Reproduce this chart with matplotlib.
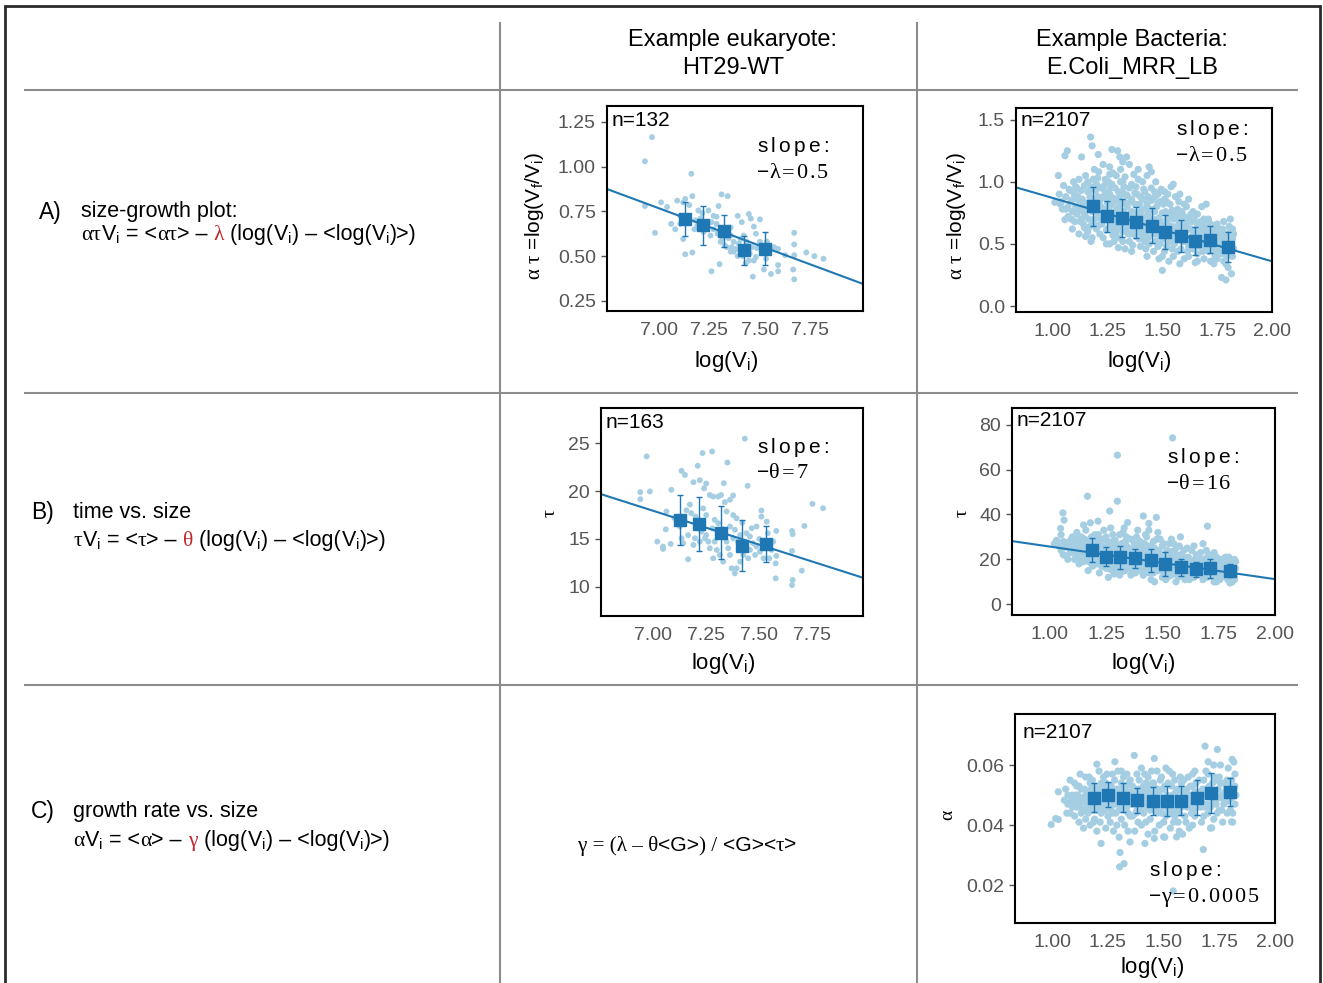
import matplotlib
matplotlib.use("Agg")
import matplotlib.pyplot as plt
from matplotlib.lines import Line2D
import numpy as np

plt.rcParams['font.family'] = ['Liberation Sans', 'DejaVu Sans']
plt.rcParams['mathtext.fontset'] = 'custom'
plt.rcParams['mathtext.rm'] = 'Liberation Sans'
plt.rcParams['mathtext.sf'] = 'Liberation Serif'
plt.rcParams['mathtext.it'] = 'Liberation Sans:italic'
plt.rcParams['mathtext.default'] = 'regular'

# ---------------- DATA ----------------
col_titles = [["Example eukaryote:", "HT29-WT"], ["Example Bacteria:", "E.Coli_MRR_LB"]]
row_labels = ["A)", "B)", "C)"]
row_titles = ["size-growth plot:", "time vs. size", "growth rate vs. size"]

euk_xticks = [7.00, 7.25, 7.50, 7.75]
bac_xticks = [1.00, 1.25, 1.50, 1.75, 2.00]

# A) eukaryote: log(Vi) vs alpha*tau
eA_pts = [(6.93,1.03),(6.965,1.165),(7.16,0.96),(6.93,0.78),(6.98,0.63),(7.01,0.80),(7.04,0.775),
          (7.06,0.68),(7.08,0.65),(7.09,0.81),(7.12,0.80),(7.13,0.82),(7.15,0.785),(7.165,0.835),
          (7.12,0.595),(7.13,0.51),(7.165,0.52),(7.14,0.725),(7.18,0.70),(7.195,0.755),(7.205,0.71),
          (7.22,0.635),(7.24,0.66),(7.245,0.755),(7.26,0.415),(7.27,0.725),(7.285,0.68),(7.295,0.78),
          (7.31,0.845),(7.34,0.835),(7.30,0.455),(7.29,0.625),(7.305,0.58),(7.325,0.56),(7.355,0.615),
          (7.37,0.58),(7.39,0.725),(7.41,0.69),(7.445,0.735),(7.455,0.71),(7.50,0.705),(7.47,0.665),
          (7.42,0.615),(7.435,0.58),(7.46,0.55),(7.48,0.495),(7.465,0.385),(7.43,0.46),(7.53,0.485),
          (7.52,0.425),(7.555,0.40),(7.57,0.55),(7.59,0.45),(7.59,0.415),(7.59,0.54),(7.625,0.505),
          (7.67,0.63),(7.67,0.565),(7.665,0.425),(7.67,0.37),(7.67,0.505),(7.73,0.52),(7.77,0.50),
          (7.815,0.485),(7.37,0.525),(7.39,0.50),(7.405,0.53),(7.355,0.525),(7.335,0.55),(7.36,0.55),
          (7.38,0.54),(7.395,0.57),(7.405,0.595),(7.33,0.65),(7.355,0.66),(7.27,0.65),(7.255,0.615),
          (7.26,0.69),(7.23,0.69),(7.19,0.67),(7.175,0.65),(7.105,0.725),(7.105,0.68),(7.48,0.625),
          (7.50,0.58),(7.535,0.58),(7.55,0.545),(7.485,0.545),(7.45,0.515),(7.415,0.50),(7.445,0.475),
          (7.47,0.475),(7.315,0.60),(7.345,0.60),(7.285,0.72),(7.215,0.74)]
eA_bin_x = [7.127, 7.216, 7.320, 7.421, 7.527]
eA_bin_y = [0.708, 0.671, 0.639, 0.532, 0.541]
eA_bin_err = [0.095, 0.11, 0.088, 0.083, 0.091]
eA_fit = (7.0, 0.767, -0.418)   # (x0, y at x0, slope)

# B) eukaryote: log(Vi) vs tau
eB_pts = [(6.97,23.64),(6.94,19.9),(6.94,19.16),(6.985,19.97),(7.02,14.72),(7.047,14.2),(7.047,13.95),
          (7.086,20.14),(7.063,17.87),(7.083,14.48),(7.134,22.13),(7.15,21.7),(7.165,12.87),(7.19,20.94),
          (7.21,22.66),(7.22,21.15),(7.233,23.99),(7.24,20.3),(7.25,20.8),(7.278,24.16),(7.35,23.0),
          (7.333,20.84),(7.432,25.5),(7.445,20.56),(7.267,19.6),(7.283,19.44),(7.307,19.44),(7.32,19.6),
          (7.338,18.85),(7.377,19.55),(7.362,19.1),(7.173,18.6),(7.157,18.0),(7.18,17.7),(7.2,17.34),
          (7.236,18.2),(7.25,17.5),(7.29,17.0),(7.307,16.64),(7.346,17.87),(7.377,17.5),(7.393,17.16),
          (7.362,16.3),(7.385,15.95),(7.41,15.4),(7.44,15.6),(7.464,16.12),(7.487,16.3),(7.51,17.97),
          (7.51,17.34),(7.535,16.82),(7.58,15.84),(7.566,14.72),(7.558,13.85),(7.58,13.22),(7.547,12.97),
          (7.577,12.44),(7.577,10.87),(7.654,15.84),(7.657,15.5),(7.654,13.74),(7.657,10.7),(7.654,10.17),
          (7.70,11.68),(7.712,16.36),(7.75,18.67),(7.80,18.22),(7.126,16.3),(7.134,15.07),(7.142,14.55),
          (7.165,15.4),(7.19,14.37),(7.197,15.07),(7.22,14.72),(7.244,15.07),(7.26,14.72),(7.267,14.02),
          (7.283,12.97),(7.29,14.72),(7.30,13.85),(7.314,13.32),(7.33,12.62),(7.346,14.72),(7.354,14.02),
          (7.362,13.32),(7.37,11.92),(7.385,11.4),(7.393,11.92),(7.41,12.62),(7.425,13.32),(7.448,12.97),
          (7.456,13.85),(7.47,14.55),(7.48,13.32),(7.487,14.2),(7.503,13.67),(7.52,12.97),(7.377,15.07),
          (7.40,14.72),(7.432,14.72),(7.456,15.25),(7.322,15.25),(7.25,15.4),(7.228,15.77),(7.212,16.12),
          (7.10,17.2),(7.06,16.0),(7.28,16.1),(7.33,16.0),(7.42,16.7),(7.50,15.0),(7.54,15.6)]
eB_bin_x = [7.126, 7.217, 7.322, 7.420, 7.530]
eB_bin_y = [16.96, 16.57, 15.66, 14.30, 14.48]
eB_bin_err = [2.6, 2.8, 2.8, 2.7, 1.87]
eB_fit = (7.0, 17.95, -7.1)

# A) bacteria
bA_pts = [(1.026,1.05),(1.01,0.835),(1.05,0.97),(1.056,0.695),(1.056,1.21),(1.067,1.25),(1.04,0.84),
          (1.06,0.88),(1.07,0.80),(1.08,0.93),(1.09,0.76),(1.085,0.85),(1.095,1.0),(1.07,0.72),(1.09,0.62),
          (1.10,0.90),(1.10,0.68),(1.045,0.78),
          (1.132,1.2),(1.173,1.36),(1.18,1.29),(1.11,0.95),(1.12,0.85),(1.13,0.78),(1.14,0.66),(1.12,0.58),
          (1.15,1.05),(1.16,0.92),(1.17,0.88),(1.15,0.72),(1.16,0.60),(1.18,0.55),(1.19,1.10),(1.20,0.98),
          (1.19,0.70),(1.17,0.64),(1.14,0.82),(1.11,0.74),(1.13,0.93),(1.16,1.0),(1.18,0.76),(1.20,0.62),
          (1.12,1.02),(1.105,0.80),(1.195,0.85),(1.175,0.52),(1.145,0.97),(1.165,0.70),(1.125,0.68),
          (1.185,1.02),(1.15,0.56),
          (1.208,1.22),(1.27,1.26),(1.296,1.25),(1.21,1.08),(1.22,0.95),(1.23,0.88),(1.24,0.78),(1.22,0.70),
          (1.25,0.62),(1.23,0.55),(1.26,0.50),(1.24,1.02),(1.26,1.12),(1.27,0.98),(1.28,0.84),(1.25,0.74),
          (1.29,0.66),(1.28,0.58),(1.30,0.47),(1.21,0.65),(1.26,0.90),(1.29,1.05),(1.30,0.92),(1.27,0.72),
          (1.24,0.92),(1.22,0.80),(1.28,0.52),(1.30,0.78),(1.25,0.83),(1.23,1.14),(1.29,0.60),(1.215,0.58),
          (1.265,0.65),(1.245,0.50),(1.285,0.95),(1.275,1.07),(1.205,0.88),(1.255,1.0),(1.295,0.86),
          (1.306,1.2),(1.337,1.2),(1.31,1.10),(1.32,1.0),(1.33,0.90),(1.34,0.80),(1.31,0.70),(1.32,0.60),
          (1.35,0.52),(1.33,0.46),(1.36,0.44),(1.37,1.06),(1.38,0.96),(1.36,0.86),(1.39,0.75),(1.37,0.66),
          (1.38,0.56),(1.40,0.48),(1.35,1.14),(1.33,1.04),(1.39,1.02),(1.40,0.88),(1.34,0.64),(1.31,0.82),
          (1.36,0.76),(1.32,0.52),(1.38,0.70),(1.40,0.62),(1.35,0.95),(1.315,0.92),(1.345,0.58),(1.325,0.76),
          (1.355,0.68),(1.375,0.82),(1.395,0.54),(1.385,0.90),(1.365,0.49),(1.305,0.62),(1.39,1.10),(1.32,1.16),
          (1.44,1.12),(1.45,1.08),(1.41,1.0),(1.42,0.92),(1.43,0.82),(1.41,0.72),(1.44,0.62),(1.42,0.52),
          (1.46,0.44),(1.43,0.40),(1.47,1.0),(1.48,0.90),(1.46,0.78),(1.49,0.68),(1.47,0.58),(1.48,0.48),
          (1.50,0.40),(1.50,0.287),(1.45,0.95),(1.49,0.84),(1.42,0.64),(1.46,0.70),(1.44,0.50),(1.41,0.86),
          (1.50,0.75),(1.43,1.05),(1.47,0.52),(1.45,0.85),(1.49,0.56),(1.415,0.56),(1.435,0.74),(1.455,0.60),
          (1.475,0.80),(1.495,0.94),(1.485,0.38),(1.425,0.46),(1.465,0.92),
          (1.55,0.98),(1.51,0.92),(1.52,0.84),(1.53,0.74),(1.51,0.64),(1.54,0.56),(1.52,0.48),(1.55,0.40),
          (1.53,0.36),(1.56,0.88),(1.57,0.78),(1.58,0.68),(1.56,0.60),(1.59,0.52),(1.57,0.44),(1.60,0.38),
          (1.58,0.90),(1.60,0.82),(1.54,0.96),(1.59,0.62),(1.55,0.70),(1.52,0.58),(1.57,0.54),(1.60,0.72),
          (1.51,0.44),(1.58,0.34),(1.535,0.82),(1.515,0.76),(1.545,0.64),(1.565,0.70),(1.585,0.46),
          (1.555,0.50),(1.575,0.84),(1.595,0.56),(1.505,0.54),(1.525,0.66),
          (1.61,0.80),(1.62,0.70),(1.63,0.62),(1.61,0.54),(1.64,0.46),(1.62,0.40),(1.65,0.35),(1.66,0.74),
          (1.67,0.64),(1.65,0.56),(1.68,0.50),(1.66,0.42),(1.69,0.38),(1.70,0.82),(1.68,0.80),(1.70,0.66),
          (1.64,0.76),(1.63,0.50),(1.67,0.48),(1.69,0.58),(1.70,0.46),(1.62,0.86),(1.605,0.60),(1.615,0.44),
          (1.625,0.55),(1.635,0.68),(1.645,0.60),(1.655,0.48),(1.675,0.56),(1.685,0.66),(1.695,0.52),(1.66,0.36),
          (1.77,0.23),(1.79,0.21),(1.815,0.26),(1.80,0.31),(1.71,0.70),(1.72,0.60),(1.73,0.52),(1.71,0.44),
          (1.74,0.40),(1.72,0.36),(1.75,0.66),(1.76,0.56),(1.74,0.48),(1.77,0.44),(1.75,0.38),(1.78,0.68),
          (1.79,0.58),(1.77,0.50),(1.80,0.42),(1.78,0.36),(1.81,0.62),(1.82,0.54),(1.80,0.48),(1.82,0.40),
          (1.81,0.70),(1.79,0.34),(1.73,0.64),(1.76,0.62),(1.715,0.54),(1.745,0.56),(1.765,0.42),(1.785,0.46),
          (1.805,0.56),(1.825,0.46),(1.735,0.34),(1.755,0.50),
          (1.115,0.88),(1.125,0.77),(1.135,0.86),(1.145,0.74),(1.155,0.83),(1.165,0.92),(1.175,0.79),
          (1.185,0.67),(1.195,0.93),(1.205,0.75),(1.215,0.84),(1.225,0.66),(1.235,0.97),(1.145,0.63),
          (1.175,0.96),(1.205,1.03),(1.215,0.71),(1.235,0.73),(1.13,0.70),(1.16,0.78),
          (1.245,0.86),(1.255,0.69),(1.265,0.81),(1.275,0.62),(1.285,0.76),(1.295,0.70),(1.305,0.88),
          (1.315,0.66),(1.325,0.84),(1.335,0.71),(1.245,0.61),(1.265,0.95),(1.285,0.68),(1.305,0.55),
          (1.325,0.96),(1.335,0.61),(1.255,0.77),(1.275,0.87),(1.295,0.79),(1.315,0.74),(1.275,0.57),
          (1.31,1.0),(1.33,0.67),(1.34,0.89),(1.26,1.06),
          (1.345,0.72),(1.355,0.84),(1.365,0.63),(1.375,0.75),(1.385,0.60),(1.395,0.82),(1.405,0.67),
          (1.415,0.78),(1.425,0.59),(1.435,0.88),(1.445,0.70),(1.355,0.58),(1.375,0.91),(1.395,0.66),
          (1.415,0.94),(1.435,0.55),(1.445,0.78),(1.36,0.98),(1.38,0.62),(1.40,0.76),(1.42,0.69),(1.44,0.86),
          (1.37,0.71),(1.41,0.58),(1.43,0.66),
          (1.455,0.66),(1.465,0.76),(1.475,0.64),(1.485,0.71),(1.495,0.58),(1.505,0.82),(1.515,0.61),
          (1.525,0.73),(1.535,0.52),(1.545,0.77),(1.555,0.60),(1.46,0.58),(1.48,0.83),(1.50,0.65),(1.52,0.70),
          (1.54,0.62),(1.56,0.74),(1.47,0.68),(1.49,0.50),(1.51,0.86),(1.53,0.58),(1.55,0.55),(1.465,0.88),
          (1.525,0.90),(1.545,0.46),
          (1.565,0.64),(1.575,0.59),(1.585,0.72),(1.595,0.66),(1.605,0.52),(1.615,0.68),(1.625,0.62),
          (1.635,0.56),(1.645,0.70),(1.655,0.62),(1.665,0.55),(1.675,0.68),(1.685,0.44),(1.695,0.62),
          (1.57,0.70),(1.59,0.76),(1.61,0.64),(1.63,0.74),(1.65,0.50),(1.67,0.58),(1.69,0.70),(1.60,0.58),
          (1.62,0.48),(1.64,0.54),(1.66,0.66),(1.68,0.60),
          (1.705,0.56),(1.715,0.62),(1.725,0.48),(1.735,0.58),(1.745,0.44),(1.755,0.60),(1.765,0.52),
          (1.775,0.62),(1.785,0.54),(1.795,0.40),(1.805,0.64),(1.815,0.50),(1.825,0.58),(1.71,0.50),
          (1.73,0.44),(1.75,0.54),(1.77,0.58),(1.79,0.50),(1.81,0.45),(1.82,0.62),(1.72,0.66),(1.74,0.62),
          (1.76,0.46),(1.78,0.42),
          (1.03,0.90),(1.035,0.82),(1.06,0.78),(1.075,0.94),(1.085,0.70),(1.095,0.86),(1.105,0.96),(1.10,0.76)]
bA_bin_x = [1.185, 1.25, 1.317, 1.382, 1.455, 1.514, 1.587, 1.651, 1.718, 1.80]
bA_bin_y = [0.802, 0.722, 0.709, 0.674, 0.647, 0.596, 0.561, 0.526, 0.534, 0.472]
bA_bin_err = [0.16, 0.125, 0.15, 0.125, 0.14, 0.135, 0.13, 0.113, 0.11, 0.12]
bA_fit = (1.0, 0.87, -0.51)

# B) bacteria
bB_pts = [(1.545,74.1),(1.30,66.4),(1.167,48.1),(1.30,45.9),(1.058,40.7),(1.063,37.5),(1.048,33.8),
          (1.266,41.5),(1.415,39.3),(1.473,38.7),(1.345,36.4),(1.70,34.8),(1.44,36.0),(1.18,36.3),
          (1.15,35.3),(1.214,37.0),
          (1.02,27),(1.03,28.5),(1.04,26),(1.05,24),(1.06,22),(1.06,28),(1.07,25.5),(1.08,27.5),(1.09,23),
          (1.10,26),(1.10,30),(1.08,20),(1.095,29),(1.05,31),(1.075,21.5),
          (1.11,24),(1.12,27),(1.13,22),(1.14,30),(1.15,19),(1.12,32),(1.16,25),(1.17,28),(1.18,21),(1.19,17),
          (1.20,31),(1.15,26),(1.13,18),(1.18,24),(1.20,27),(1.16,33),(1.11,20),(1.14,23),(1.19,29),(1.17,15),
          (1.125,25.5),(1.155,22),(1.185,26.5),(1.105,28),(1.135,28.5),(1.165,19.5),(1.195,22.5),
          (1.21,25),(1.22,29),(1.23,20),(1.24,33),(1.25,16),(1.26,27),(1.22,14),(1.27,22),(1.28,31),(1.29,18),
          (1.30,24),(1.23,26),(1.25,22),(1.26,12),(1.28,28),(1.21,18),(1.24,17),(1.27,34),(1.29,26),(1.30,15),
          (1.215,31),(1.235,23),(1.255,28),(1.275,19),(1.295,21),(1.265,16.5),(1.245,25),(1.285,13.5),
          (1.205,22),(1.225,21),
          (1.31,31),(1.32,27),(1.33,20),(1.34,24),(1.35,16),(1.36,29),(1.37,22),(1.38,14),(1.39,33),(1.40,19),
          (1.31,13),(1.33,34),(1.35,25),(1.37,18),(1.39,26),(1.32,17),(1.34,30),(1.36,13),(1.38,21),(1.40,28),
          (1.315,22),(1.335,15),(1.355,20),(1.375,27),(1.395,16),(1.305,26),(1.325,32),(1.345,19),(1.365,24),
          (1.385,30),
          (1.41,25),(1.42,19),(1.43,30),(1.44,14),(1.45,23),(1.46,28),(1.47,17),(1.48,32),(1.49,21),(1.50,12),
          (1.42,27),(1.44,33),(1.46,20),(1.48,15),(1.50,26),(1.41,16),(1.43,22),(1.45,11),(1.47,24),(1.49,29),
          (1.415,13),(1.435,26),(1.455,18),(1.475,29),(1.495,18),(1.465,10),(1.485,24),(1.425,31),(1.445,21),
          (1.405,22),
          (1.51,22),(1.52,17),(1.53,27),(1.54,13),(1.55,20),(1.56,25),(1.57,15),(1.58,30),(1.59,19),(1.60,11),
          (1.52,24),(1.54,29),(1.56,10),(1.58,22),(1.60,17),(1.51,14),(1.53,19),(1.55,27),(1.57,21),(1.59,13),
          (1.505,27),(1.515,11),(1.525,21),(1.545,16),(1.565,18),(1.585,15),(1.595,24),(1.575,26),(1.535,15),
          (1.555,23),
          (1.61,20),(1.62,15),(1.63,24),(1.64,12),(1.65,18),(1.66,22),(1.67,14),(1.68,27),(1.69,17),(1.70,21),
          (1.62,11),(1.64,26),(1.66,16),(1.68,11),(1.70,16),(1.61,25),(1.63,18),(1.65,13),(1.67,23),(1.69,13),
          (1.615,17),(1.635,14),(1.655,21),(1.675,18),(1.695,24),(1.605,13),(1.645,20),(1.685,20),
          (1.71,18),(1.72,13),(1.73,23),(1.74,10),(1.75,17),(1.76,20),(1.77,14),(1.78,21),(1.79,11),(1.80,19),
          (1.81,15),(1.82,20),(1.72,16),(1.74,21),(1.76,12),(1.78,17),(1.80,9.5),(1.82,13),(1.71,22),(1.73,10),
          (1.75,14),(1.77,19),(1.79,16),(1.81,10),(1.715,15),(1.735,19),(1.755,11),(1.775,16),(1.795,21),
          (1.815,18),(1.825,16),
          (1.105,24.5),(1.115,22),(1.125,27.5),(1.135,20.5),(1.145,25),(1.155,29),(1.165,23.5),(1.175,21),
          (1.185,30),(1.195,19),(1.11,26.5),(1.13,24),(1.15,23.5),(1.17,25.5),(1.19,27),(1.12,29.5),
          (1.14,20.5),(1.16,28),(1.18,18.5),(1.20,24),
          (1.205,26),(1.215,20),(1.225,24),(1.235,29),(1.245,19.5),(1.255,24.5),(1.265,22),(1.275,26),
          (1.285,17),(1.295,23),(1.305,19),(1.315,25),(1.325,21),(1.335,28),(1.345,18),(1.21,22.5),(1.23,17),
          (1.25,30),(1.27,15.5),(1.29,28.5),(1.31,17),(1.33,23.5),(1.35,21.5),(1.22,26.5),(1.26,20),(1.30,21),
          (1.34,26),(1.28,24),(1.24,22),(1.32,14.5),
          (1.355,24),(1.365,17.5),(1.375,21),(1.385,18),(1.395,23),(1.405,19),(1.415,21),(1.425,16),
          (1.435,24),(1.445,17),(1.455,21),(1.465,25),(1.475,15),(1.485,19),(1.495,22),(1.36,20.5),(1.38,25),
          (1.40,15),(1.42,23),(1.44,19),(1.46,14),(1.48,21),(1.50,17),(1.37,14.5),(1.41,27),(1.45,26),
          (1.49,15),(1.39,20),(1.43,18.5),(1.47,20),
          (1.505,19),(1.515,21),(1.525,15),(1.535,22),(1.545,19),(1.555,14),(1.565,21),(1.575,17.5),
          (1.585,19),(1.595,14.5),(1.605,17),(1.615,21),(1.625,13),(1.635,19),(1.645,15.5),(1.51,17),
          (1.53,12.5),(1.55,17),(1.57,12),(1.59,21.5),(1.61,14),(1.63,16),(1.65,22),(1.52,20),(1.56,20),
          (1.60,19.5),(1.64,17.5),(1.54,23.5),(1.58,18),(1.62,19),
          (1.655,16),(1.665,19),(1.675,14),(1.685,16),(1.695,20),(1.705,14),(1.715,18),(1.725,12),
          (1.735,16.5),(1.745,14),(1.755,18.5),(1.765,15),(1.775,12.5),(1.785,18),(1.795,14),(1.805,16),
          (1.815,12.5),(1.825,19),(1.66,13.5),(1.68,18.5),(1.70,12),(1.72,20),(1.74,17),(1.76,16),
          (1.78,14.5),(1.80,17.5),(1.82,11),(1.67,17),(1.71,16),(1.75,12.5)]
bB_bin_x = [1.1875, 1.248, 1.311, 1.379, 1.448, 1.513, 1.582, 1.647, 1.713, 1.798]
bB_bin_y = [24.15, 21.2, 20.9, 20.44, 19.56, 17.93, 16.44, 15.56, 16.0, 14.96]
bB_bin_err = [5.2, 4.2, 5.0, 4.1, 5.0, 5.2, 3.7, 3.2, 4.1, 2.9]
bB_fit = (1.0, 25.7, -14.5)

# C) bacteria
bC_pts = [(0.995,0.0402),(1.027,0.0419),(1.015,0.0422),(1.054,0.0483),(1.027,0.0511),(1.219,0.0339),
          (1.304,0.0309),(1.302,0.0261),(1.322,0.0272),(1.368,0.0632),(1.458,0.0622),(1.543,0.0181),
          (1.686,0.0663),(1.741,0.0652),(1.70,0.0611),(1.808,0.0619),(1.678,0.0319),(1.716,0.0391),
          (1.349,0.0344),(1.416,0.0339),(1.458,0.0356),(1.50,0.0361),(1.558,0.0361),(1.805,0.0411),
          (1.81,0.041),(1.281,0.0611),(1.20,0.0603),
          (1.06,0.052),(1.07,0.047),(1.08,0.044),(1.09,0.050),(1.10,0.054),(1.11,0.046),(1.12,0.041),
          (1.13,0.052),(1.14,0.048),(1.15,0.056),(1.08,0.055),(1.10,0.043),(1.12,0.049),(1.14,0.039),
          (1.07,0.050),(1.09,0.046),(1.11,0.053),(1.13,0.044),(1.15,0.042),(1.065,0.044),(1.085,0.048),
          (1.105,0.050),(1.125,0.057),(1.145,0.045),
          (1.16,0.051),(1.17,0.046),(1.18,0.055),(1.19,0.042),(1.20,0.049),(1.21,0.058),(1.22,0.044),
          (1.23,0.052),(1.24,0.039),(1.25,0.047),(1.17,0.040),(1.19,0.053),(1.21,0.050),(1.23,0.056),
          (1.25,0.043),(1.16,0.044),(1.18,0.048),(1.20,0.038),(1.22,0.054),(1.24,0.050),(1.165,0.056),
          (1.185,0.041),(1.205,0.045),(1.225,0.048),(1.245,0.057),(1.175,0.052),(1.215,0.041),(1.235,0.045),
          (1.255,0.053),
          (1.26,0.049),(1.27,0.044),(1.28,0.055),(1.29,0.040),(1.30,0.051),(1.31,0.058),(1.32,0.045),
          (1.33,0.053),(1.34,0.038),(1.35,0.048),(1.27,0.057),(1.29,0.052),(1.31,0.042),(1.33,0.049),
          (1.35,0.055),(1.26,0.041),(1.28,0.047),(1.30,0.036),(1.32,0.056),(1.34,0.044),(1.265,0.053),
          (1.285,0.050),(1.305,0.046),(1.325,0.040),(1.345,0.051),(1.275,0.038),(1.295,0.058),(1.315,0.050),
          (1.335,0.057),
          (1.36,0.043),(1.37,0.051),(1.38,0.057),(1.39,0.046),(1.40,0.040),(1.41,0.053),(1.42,0.048),
          (1.43,0.056),(1.44,0.042),(1.45,0.050),(1.37,0.038),(1.39,0.055),(1.41,0.044),(1.43,0.037),
          (1.45,0.054),(1.36,0.053),(1.38,0.049),(1.40,0.059),(1.42,0.041),(1.44,0.047),(1.355,0.047),
          (1.375,0.044),(1.395,0.050),(1.415,0.057),(1.435,0.051),(1.385,0.041),(1.405,0.047),(1.425,0.052),
          (1.445,0.058),
          (1.46,0.045),(1.47,0.052),(1.48,0.040),(1.49,0.056),(1.50,0.048),(1.51,0.043),(1.52,0.054),
          (1.53,0.039),(1.54,0.050),(1.55,0.046),(1.47,0.058),(1.49,0.044),(1.51,0.059),(1.53,0.047),
          (1.55,0.055),(1.46,0.038),(1.48,0.050),(1.50,0.041),(1.52,0.045),(1.54,0.057),(1.455,0.054),
          (1.475,0.047),(1.495,0.052),(1.515,0.050),(1.535,0.044),(1.465,0.049),(1.485,0.055),(1.505,0.036),
          (1.525,0.058),(1.545,0.041),
          (1.56,0.052),(1.57,0.044),(1.58,0.049),(1.59,0.055),(1.60,0.041),(1.61,0.050),(1.62,0.046),
          (1.63,0.057),(1.64,0.043),(1.65,0.051),(1.57,0.038),(1.59,0.047),(1.61,0.056),(1.63,0.040),
          (1.65,0.047),(1.56,0.045),(1.58,0.054),(1.60,0.050),(1.62,0.053),(1.64,0.058),(1.555,0.048),
          (1.575,0.056),(1.595,0.043),(1.615,0.039),(1.635,0.049),(1.645,0.054),(1.565,0.041),(1.585,0.037),
          (1.605,0.046),(1.625,0.044),
          (1.66,0.055),(1.67,0.048),(1.68,0.043),(1.69,0.052),(1.70,0.057),(1.71,0.046),(1.72,0.054),
          (1.73,0.049),(1.74,0.044),(1.75,0.056),(1.76,0.050),(1.77,0.047),(1.78,0.053),(1.79,0.059),
          (1.80,0.045),(1.81,0.052),(1.82,0.057),(1.82,0.047),(1.67,0.041),(1.69,0.058),(1.71,0.039),
          (1.73,0.056),(1.75,0.045),(1.77,0.054),(1.79,0.048),(1.81,0.044),(1.665,0.051),(1.685,0.046),
          (1.705,0.050),(1.725,0.060),(1.745,0.052),(1.765,0.041),(1.785,0.044),(1.805,0.055),(1.815,0.061),
          (1.725,0.042),(1.755,0.060),(1.795,0.050),
          (1.105,0.047),(1.115,0.050),(1.125,0.046),(1.135,0.049),(1.145,0.052),(1.155,0.047),(1.165,0.049),
          (1.175,0.045),(1.185,0.051),(1.195,0.047),(1.205,0.052),(1.215,0.047),(1.225,0.051),(1.235,0.049),
          (1.245,0.046),(1.11,0.049),(1.13,0.048),(1.15,0.050),(1.17,0.054),(1.19,0.045),(1.21,0.046),
          (1.23,0.047),(1.25,0.051),(1.12,0.053),(1.16,0.048),(1.20,0.052),(1.24,0.054),
          (1.255,0.047),(1.265,0.045),(1.275,0.051),(1.285,0.044),(1.295,0.049),(1.305,0.052),(1.315,0.047),
          (1.325,0.051),(1.335,0.046),(1.345,0.054),(1.355,0.050),(1.365,0.047),(1.375,0.052),(1.385,0.048),
          (1.395,0.045),(1.405,0.051),(1.415,0.049),(1.425,0.046),(1.435,0.048),(1.445,0.053),(1.26,0.052),
          (1.28,0.050),(1.30,0.045),(1.32,0.048),(1.34,0.051),(1.36,0.049),(1.38,0.045),(1.40,0.050),
          (1.42,0.054),(1.44,0.045),(1.27,0.047),(1.31,0.054),(1.35,0.043),(1.39,0.052),(1.43,0.050),
          (1.455,0.047),(1.465,0.052),(1.475,0.050),(1.485,0.045),(1.495,0.048),(1.505,0.053),(1.515,0.046),
          (1.525,0.049),(1.535,0.053),(1.545,0.047),(1.555,0.051),(1.565,0.049),(1.575,0.046),(1.585,0.051),
          (1.595,0.048),(1.605,0.052),(1.615,0.047),(1.625,0.050),(1.635,0.045),(1.645,0.049),(1.46,0.050),
          (1.48,0.046),(1.50,0.052),(1.52,0.049),(1.54,0.046),(1.56,0.049),(1.58,0.046),(1.60,0.047),
          (1.62,0.049),(1.64,0.051),(1.47,0.044),(1.51,0.047),(1.55,0.043),(1.59,0.052),(1.63,0.053),
          (1.655,0.048),(1.665,0.046),(1.675,0.052),(1.685,0.050),(1.695,0.047),(1.705,0.053),(1.715,0.049),
          (1.725,0.051),(1.735,0.047),(1.745,0.049),(1.755,0.054),(1.765,0.049),(1.775,0.051),(1.785,0.055),
          (1.795,0.053),(1.805,0.049),(1.815,0.052),(1.825,0.050),(1.66,0.049),(1.68,0.055),(1.70,0.044),
          (1.72,0.047),(1.74,0.055),(1.76,0.045),(1.78,0.049),(1.80,0.051),(1.82,0.053)]
bC_bin_x = [1.187, 1.25, 1.316, 1.38, 1.454, 1.513, 1.58, 1.648, 1.714, 1.798]
bC_bin_y = [0.0491, 0.0502, 0.0492, 0.0483, 0.0481, 0.0481, 0.0481, 0.0492, 0.0506, 0.0511]
bC_bin_err = [0.0048, 0.004, 0.0048, 0.0041, 0.0046, 0.005, 0.0048, 0.0058, 0.0066, 0.0046]

n_labels = {"eA": "n=132", "eB": "n=163", "bA": "n=2107", "bB": "n=2107", "bC": "n=2107"}

# ---------------- FIGURE ----------------
W, H = 1323, 983
fig = plt.figure(figsize=(W / 100, H / 100), dpi=100)
renderer = fig.canvas.get_renderer()

def fx(x):
    return x / W

def fy(y):
    return 1 - y / H

SANS = ['Liberation Sans', 'DejaVu Sans']
SERIF = ['Liberation Serif', 'DejaVu Serif']
RED = '#c1272d'
LIGHT = '#a6cee3'
DARK = '#1f77b4'
TICKC = '#555555'

def hline(x0, x1, y, color, lw):
    fig.add_artist(Line2D([fx(x0), fx(x1)], [fy(y), fy(y)], color=color, lw=lw,
                          transform=fig.transFigure, solid_capstyle='butt'))

def vline(x, y0, y1, color, lw):
    fig.add_artist(Line2D([fx(x), fx(x)], [fy(y0), fy(y1)], color=color, lw=lw,
                          transform=fig.transFigure, solid_capstyle='butt'))

# outer frame
hline(4, 1321, 6, '#2b2b2b', 2.0)
vline(5, 5, 983, '#2b2b2b', 2.0)
vline(1320, 5, 983, '#2b2b2b', 2.0)
# grid lines
for yy in (90, 393, 685):
    hline(24, 1298, yy, '#8c8c8c', 1.5)
for xx in (500, 917):
    vline(xx, 22, 983, '#8c8c8c', 1.5)

def seq(x, y, pieces, size, gap=0.0):
    cur = x
    for p in pieces:
        txt, fam = p[0], p[1]
        col = p[2] if len(p) > 2 else 'black'
        t = fig.text(fx(cur), fy(y), txt, fontsize=size, family=fam, color=col,
                     va='baseline', ha='left')
        bb = t.get_window_extent(renderer)
        cur += bb.width + gap

def spaced(x, y, text, fam, size, gap):
    seq(x, y, [(c, fam) for c in text], size, gap)

# column titles
for (l1, l2), cx in zip(col_titles, (733, 1132)):
    fig.text(fx(cx), fy(40), l1, fontsize=17, ha='center', va='center', family=SANS)
    fig.text(fx(cx), fy(68), l2, fontsize=17, ha='center', va='center', family=SANS)

# row labels
VI = r'$V_i$'
row_lab_pos = [(39, 219, 81, 217, 240), (31, 519, 73, 518, 546), (31, 818, 73, 817, 846)]
greek_main = [("ατ", "λ"), ("τ", "θ"), ("α", "γ")]
for lab, title, (lx, ly, tx, ty, fy2), (g, coef) in zip(row_labels, row_titles, row_lab_pos, greek_main):
    fig.text(fx(lx), fy(ly), lab, fontsize=16.5, family=SANS, va='baseline')
    fig.text(fx(tx), fy(ty), title, fontsize=15.5, family=SANS, va='baseline')
    pieces = [(g, SERIF), (VI, SANS), (" = <", SANS), (g, SERIF), ("> – ", SANS),
              (coef, SERIF, RED), (" (log(", SANS), (VI, SANS), (") – <log(", SANS),
              (VI, SANS), (")>)", SANS)]
    seq(tx, fy2, pieces, 15.5)

# middle formula
seq(578, 851, [("γ = (λ – θ", SERIF), ("<G>", SANS), (") / ", SERIF), ("<G><", SANS),
               ("τ", SERIF), (">", SANS)], 15.2)

def make_ax(l, t, r, b):
    ax = fig.add_axes([fx(l), fy(b), (r - l) / W, (b - t) / H])
    for s in ax.spines.values():
        s.set_color('black')
        s.set_linewidth(1.5)
    ax.tick_params(axis='y', length=4, width=1, color=TICKC, labelcolor=TICKC, labelsize=14, pad=4)
    ax.tick_params(axis='x', length=0, labelcolor=TICKC, labelsize=14, pad=8)
    return ax

def draw(ax, pts, bx, by, be, fit, xlim, ylim, xticks, yticks, yfmt, xerr, size):
    px = [p[0] for p in pts]
    py = [p[1] for p in pts]
    ax.scatter(px, py, s=size, color=LIGHT, edgecolors='none', zorder=1)
    if fit is not None:
        ax.axline((fit[0], fit[1]), slope=fit[2], color=DARK, lw=1.5, zorder=2)
    ax.errorbar(bx, by, yerr=be, xerr=xerr, fmt='s', ms=9, color=DARK, ecolor=DARK,
                elinewidth=1, capsize=2, capthick=1, zorder=3)
    ax.set_xlim(*xlim)
    ax.set_ylim(*ylim)
    ax.set_xticks(xticks)
    ax.set_xticklabels([f"{v:.2f}" for v in xticks])
    ax.set_yticks(yticks)
    ax.set_yticklabels([yfmt.format(v) for v in yticks])

axA_e = make_ax(607, 106, 863, 311)
draw(axA_e, eA_pts, eA_bin_x, eA_bin_y, eA_bin_err, eA_fit, (6.742, 8.011), (0.193, 1.339),
     euk_xticks, [0.25, 0.5, 0.75, 1.0, 1.25], "{:.2f}", 0.02, 18)
axA_b = make_ax(1016, 108, 1272, 312)
draw(axA_b, bA_pts, bA_bin_x, bA_bin_y, bA_bin_err, bA_fit, (0.833, 2.0), (-0.048, 1.594),
     bac_xticks, [0.0, 0.5, 1.0, 1.5], "{:.1f}", 0.02, 27)
axB_e = make_ax(601, 408, 863, 616)
draw(axB_e, eB_pts, eB_bin_x, eB_bin_y, eB_bin_err, eB_fit, (6.755, 7.988), (6.93, 28.71),
     euk_xticks, [10, 15, 20, 25], "{:d}", 0.02, 18)
axB_b = make_ax(1012, 408, 1275, 615)
draw(axB_b, bB_pts, bB_bin_x, bB_bin_y, bB_bin_err, bB_fit, (0.832, 2.0), (-4.76, 87.4),
     bac_xticks, [0, 20, 40, 60, 80], "{:d}", 0.02, 27)
axC_b = make_ax(1015, 714, 1275, 923)
draw(axC_b, bC_pts, bC_bin_x, bC_bin_y, bC_bin_err, None, (0.8325, 2.0), (0.00743, 0.077),
     bac_xticks, [0.02, 0.04, 0.06], "{:.2f}", 0.02, 27)

# axis labels
XL = r'log($V_i$)'
for cx, cy in [(726, 362), (1139, 362), (723, 664), (1143, 664), (1152, 967)]:
    fig.text(fx(cx), fy(cy), XL, fontsize=16, ha='center', va='center', family=SANS)
YLA = r'$\mathsf{\alpha\ \tau}$ =log($V_f$/$V_i$)'
fig.text(fx(535), fy(216), YLA, fontsize=15, rotation=90, ha='center', va='center', family=SANS)
fig.text(fx(957), fy(216), YLA, fontsize=15, rotation=90, ha='center', va='center', family=SANS)
fig.text(fx(550), fy(513), "τ", fontsize=14, rotation=90, ha='center', va='center', family=SERIF)
fig.text(fx(962), fy(513), "τ", fontsize=14, rotation=90, ha='center', va='center', family=SERIF)
fig.text(fx(948), fy(815), "α", fontsize=14, rotation=90, ha='center', va='center', family=SERIF)

# n= labels
for key, (x, y) in zip(["eA", "bA", "eB", "bB", "bC"],
                       [(612, 120), (1021, 121), (606, 422), (1017, 421), (1023, 733)]):
    fig.text(fx(x), fy(y), n_labels[key], fontsize=15, va='center', family=SANS)

# slope annotations
slope_txt = [("λ", "0.5", 757, 152, 178), ("λ", "0.5", 1176, 135, 161),
             ("θ", "7", 757, 453, 478), ("θ", "16", 1167, 463, 489),
             ("γ", "0.0005", 1149, 876, 902)]
for g, val, x, y1, y2 in slope_txt:
    spaced(x, y1, "slope:", SANS, 15, 3.2)
    seq(x, y2, [("−", SANS)], 15)
    spaced(x + 12, y2, g + "=" + val, SERIF, 16, 2.0)

fig.savefig("out.png", dpi=100)
